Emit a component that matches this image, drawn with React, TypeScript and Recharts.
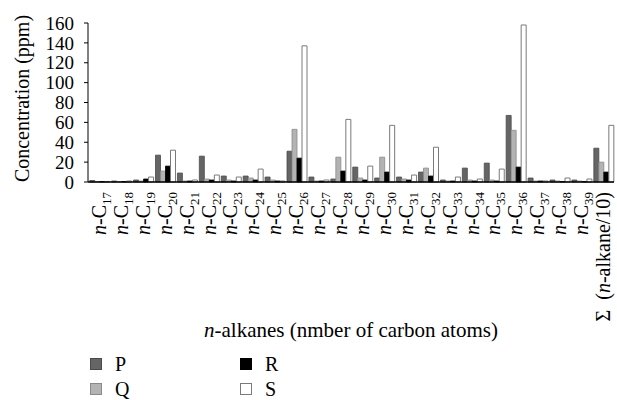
import React from 'react';
import { BarChart, Bar, XAxis, YAxis, Label, Legend } from 'recharts';

// carbon numbers of the n-alkanes, last one is the sum column
const carbons = ['17', '18', '19', '20', '21', '22', '23', '24', '25', '26', '27', '28', '29', '30', '31', '32', '33', '34', '35', '36', '37', '38', '39', 'sum'];

const seriesP = [1.5, 1, 2, 27, 9, 26, 6, 6, 5, 31, 5, 3, 15, 4, 5, 10, 2, 14, 19, 67, 4, 2, 2, 34];
const seriesQ = [0.5, 0.5, 1, 11, 1, 3, 2, 4, 2, 53, 1, 25, 4, 25, 3, 14, 1, 2, 2, 52, 1, 1, 1, 20];
const seriesR = [0.5, 0.5, 3, 16, 1, 2, 1, 2, 1, 24, 1, 11, 2, 10, 2, 6, 1, 1, 1, 15, 1, 0.5, 0.5, 10];
const seriesS = [0.5, 1, 5, 32, 2, 7, 5, 13, 1, 137, 2, 63, 16, 57, 7, 35, 5, 3, 13, 158, 1, 4, 3, 57];

const yTicks = [0, 20, 40, 60, 80, 100, 120, 140, 160];

const data = carbons.map((c, i) => ({
  name: c,
  P: seriesP[i],
  Q: seriesQ[i],
  R: seriesR[i],
  S: seriesS[i],
}));

const FONT = "'Liberation Serif', 'DejaVu Serif', serif";

const swatch: Record<string, { fill: string; stroke: string }> = {
  P: { fill: '#656565', stroke: '#4a4a4a' },
  Q: { fill: '#b3b3b3', stroke: '#8a8a8a' },
  R: { fill: '#000000', stroke: '#000000' },
  S: { fill: '#ffffff', stroke: '#7a7a7a' },
};

// legend is a 2x2 grid: P R / Q S
const legendSlots: Record<string, { col: number; row: number }> = {
  P: { col: 0, row: 0 },
  R: { col: 1, row: 0 },
  Q: { col: 0, row: 1 },
  S: { col: 1, row: 1 },
};

function CarbonTick(props: any) {
  const { x, y, payload } = props;
  const v = payload.value;
  return (
    <g transform={`translate(${x},${y + 10}) rotate(-90)`}>
      <text x={0} y={0} dy="0.35em" textAnchor="end" style={{ fontFamily: FONT }} fontSize={20} fill="#000">
        {v === 'sum' ? (
          <>
            <tspan>{'Σ\u2002('}</tspan>
            <tspan fontStyle="italic">n</tspan>
            <tspan>-alkane/10)</tspan>
          </>
        ) : (
          <>
            <tspan fontStyle="italic">n</tspan>
            <tspan>-C</tspan>
            <tspan fontSize={13} dy={5}>{v}</tspan>
          </>
        )}
      </text>
    </g>
  );
}

function LegendGrid(props: any) {
  const items = (props.payload || []) as any[];
  return (
    <div style={{ position: 'relative', width: 280, height: 42, fontFamily: FONT, fontSize: 20, color: '#000' }}>
      {items.map((entry) => {
        const key = String(entry.dataKey ?? entry.value);
        const slot = legendSlots[key];
        const sw = swatch[key];
        if (!slot || !sw) return null;
        return (
          <div
            key={key}
            style={{
              position: 'absolute',
              left: 2 + slot.col * 150,
              top: slot.row * 25,
              height: 16,
              display: 'flex',
              alignItems: 'center',
            }}
          >
            <span
              style={{
                display: 'inline-block',
                width: 10,
                height: 10,
                background: sw.fill,
                border: `1px solid ${sw.stroke}`,
                marginRight: 13,
              }}
            />
            <span style={{ lineHeight: '16px' }}>{entry.value}</span>
          </div>
        );
      })}
    </div>
  );
}

export default function App() {
  return (
    <div style={{ width: 617, height: 400, position: 'relative', background: '#fff', fontFamily: FONT }}>
      <style>{'body{margin:0;}'}</style>
      <BarChart
        width={617}
        height={400}
        data={data}
        margin={{ top: 23, right: 3, left: 0, bottom: 0 }}
        barCategoryGap="8%"
        barGap={0}
        style={{ fontFamily: FONT }}
      >
        <XAxis
          dataKey="name"
          interval={0}
          height={218}
          tickLine={false}
          tickSize={0}
          tickMargin={0}
          axisLine={{ stroke: '#000', strokeWidth: 1.5 }}
          tick={<CarbonTick />}
        >
          <Label
            content={(p: any) => {
              const vb = p.viewBox || {};
              return (
                <text
                  x={vb.x + vb.width / 2}
                  y={337}
                  textAnchor="middle"
                  style={{ fontFamily: FONT }}
                  fontSize={21}
                  fill="#000"
                >
                  <tspan fontStyle="italic">n</tspan>
                  <tspan>-alkanes (nmber of carbon atoms)</tspan>
                </text>
              );
            }}
          />
        </XAxis>
        <YAxis
          width={88}
          domain={[0, 160]}
          ticks={yTicks}
          interval={0}
          tickSize={4}
          tickMargin={10}
          axisLine={{ stroke: '#000' }}
          tickLine={{ stroke: '#000' }}
          tick={{ fontSize: 19, fill: '#000', style: { fontFamily: FONT } }}
        >
          <Label
            content={(p: any) => {
              const vb = p.viewBox || {};
              const cy = vb.y + vb.height / 2 - 4;
              return (
                <text
                  transform={`translate(22,${cy}) rotate(-90)`}
                  textAnchor="middle"
                  dominantBaseline="central"
                  style={{ fontFamily: FONT }}
                  fontSize={20}
                  fill="#000"
                >
                  Concentration (ppm)
                </text>
              );
            }}
          />
        </YAxis>
        <Legend
          layout="vertical"
          align="center"
          verticalAlign="middle"
          content={<LegendGrid />}
          wrapperStyle={{ position: 'absolute', left: 88, top: 356, width: 280, height: 42 }}
        />
        <Bar dataKey="P" name="P" fill={swatch.P.fill} stroke={swatch.P.stroke} strokeWidth={0.8} isAnimationActive={false} />
        <Bar dataKey="Q" name="Q" fill={swatch.Q.fill} stroke={swatch.Q.stroke} strokeWidth={0.8} isAnimationActive={false} />
        <Bar dataKey="R" name="R" fill={swatch.R.fill} stroke={swatch.R.stroke} strokeWidth={0.8} isAnimationActive={false} />
        <Bar dataKey="S" name="S" fill={swatch.S.fill} stroke={swatch.S.stroke} strokeWidth={1} isAnimationActive={false} />
      </BarChart>
    </div>
  );
}
